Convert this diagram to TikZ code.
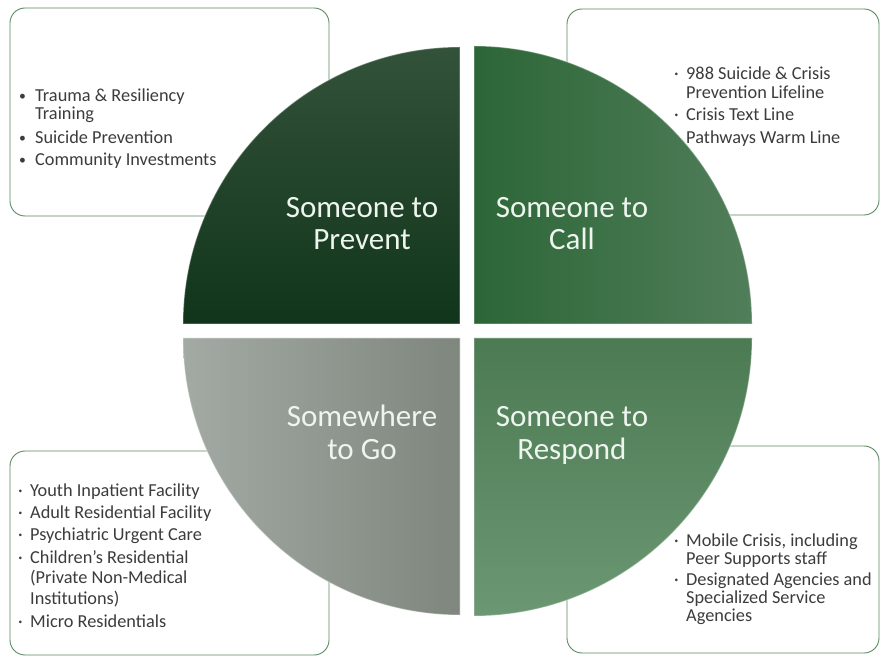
\documentclass[tikz,border=0pt]{standalone}
\usepackage{fontspec}
\setmainfont{Carlito}
\definecolor{boxgreen}{HTML}{5A8A62}
\definecolor{tlTop}{HTML}{33523A}
\definecolor{tlBot}{HTML}{10351A}
\definecolor{trLeft}{HTML}{2C6637}
\definecolor{trRight}{HTML}{517E5A}
\definecolor{blLeft}{HTML}{A3AAA3}
\definecolor{blRight}{HTML}{7E867E}
\definecolor{brTop}{HTML}{4C7A53}
\definecolor{brBot}{HTML}{6B9872}
\definecolor{labeltext}{HTML}{EEF4EE}
\definecolor{bodytext}{HTML}{3C3C3C}
\newcommand\bbul{\makebox[16pt][l]{\raisebox{1pt}{\scalebox{0.75}{•}}}}
\newcommand\dbul{\makebox[12pt][l]{·}}
\newcommand\nbul{\makebox[12pt][l]{}}
\begin{document}
\begin{tikzpicture}[x=1pt,y=1pt,
  infobox/.style={draw=boxgreen, line width=0.9pt, rounded corners=15pt, fill=white, inner sep=0pt},
  quad/.style={draw=white, draw opacity=0.3, line width=1.2pt},
  qlabel/.style={font=\fontsize{31}{32}\selectfont, text=labeltext, inner sep=0pt, anchor=base},
  blist/.style={font=\fontsize{18.3}{18}\selectfont, text=bodytext, inner sep=0pt, anchor=base west}]
\useasboundingbox (0,0) rectangle (880,656);
\fill[white] (0,0) rectangle (880,656);
% text boxes
\node[infobox, minimum width=319pt, minimum height=208pt] (boxTL) at (169.5,544) {};
\node[infobox, minimum width=312pt, minimum height=206pt] (boxTR) at (723,544) {};
\node[infobox, minimum width=319pt, minimum height=204pt] (boxBL) at (169.5,103) {};
\node[infobox, minimum width=312pt, minimum height=207pt] (boxBR) at (723,106.5) {};
% quadrants
\path[quad, top color=tlTop, bottom color=tlBot]
  (460,332) -- (183,332) arc[start angle=180, end angle=90, radius=277pt] -- cycle;
\path[quad, left color=trLeft, right color=trRight]
  (474,332) -- (474,610) arc[start angle=90, end angle=0, radius=278pt] -- cycle;
\path[quad, left color=blLeft, right color=blRight]
  (460,318) -- (183,318) arc[start angle=180, end angle=270, radius=277pt] -- cycle;
\path[quad, top color=brTop, bottom color=brBot]
  (474,318) -- (752,318) arc[start angle=0, end angle=-90, radius=278pt] -- cycle;
% quadrant labels
\node[qlabel] (lblTL) at (362,438) {\begin{tabular}[t]{@{}c@{}}Someone to\\Prevent\end{tabular}};
\node[qlabel] (lblTR) at (572,438) {\begin{tabular}[t]{@{}c@{}}Someone to\\Call\end{tabular}};
\node[qlabel] (lblBL) at (362,229) {\begin{tabular}[t]{@{}c@{}}Somewhere\\to Go\end{tabular}};
\node[qlabel] (lblBR) at (572,229) {\begin{tabular}[t]{@{}c@{}}Someone to\\Respond\end{tabular}};
% lists
\node[blist] (listTL) at (19,554) {\begin{tabular}[t]{@{}l@{}l@{}}
\bbul & Trauma \& Resiliency\\
 & Training\\[5pt]
\bbul & Suicide Prevention\\[4pt]
\bbul & Community Investments
\end{tabular}};
\node[blist] (listTR) at (674,576) {\begin{tabular}[t]{@{}l@{}l@{}}
\dbul & 988 Suicide \& Crisis\\
 & Prevention Lifeline\\[4pt]
\dbul & Crisis Text Line\\[5pt]
\nbul & Pathways Warm Line
\end{tabular}};
\node[blist] (listBL) at (18,160) {\begin{tabular}[t]{@{}l@{}l@{}}
\dbul & Youth Inpatient Facility\\[4pt]
\dbul & Adult Residential Facility\\[4pt]
\dbul & Psychiatric Urgent Care\\[5pt]
\dbul & Children’s Residential\\[1pt]
 & (Private Non-Medical\\[2pt]
 & Institutions)\\[5pt]
\dbul & Micro Residentials
\end{tabular}};
\node[blist] (listBR) at (674,110) {\begin{tabular}[t]{@{}l@{}l@{}}
\dbul & Mobile Crisis, including\\
 & Peer Supports staff\\[3pt]
\dbul & Designated Agencies and\\
 & Specialized Service\\
 & Agencies
\end{tabular}};
\end{tikzpicture}
\end{document}
